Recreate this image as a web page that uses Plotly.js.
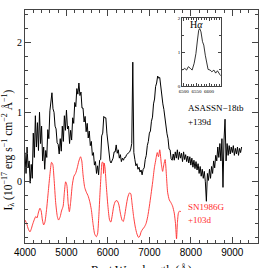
<!DOCTYPE html>
<html><head><meta charset="utf-8">
<script src="https://cdn.plot.ly/plotly-3.0.1.min.js"></script>
<style>html,body{margin:0;padding:0;background:#fff}#c{width:269px;height:268px}</style>
</head><body><div id="c"></div>
<script>
// ASASSN-18tb +139d (black)
const waveTb = [
4000,4025,4050,4075,4100,4125,4150,4175,
4200,4225,4250,4275,4300,4325,4350,4375,
4400,4425,4450,4475,4500,4525,4550,4575,
4600,4625,4650,4675,4700,4725,4750,4775,
4800,4825,4850,4875,4900,4925,4950,4975,
5000,5025,5050,5075,5100,5125,5150,5175,
5200,5225,5250,5275,5300,5325,5350,5375,
5400,5425,5450,5475,5500,5525,5550,5575,
5600,5625,5650,5675,5700,5725,5750,5775,
5800,5825,5850,5875,5900,5925,5950,5975,
6000,6025,6050,6075,6100,6125,6150,6175,
6200,6225,6250,6275,6300,6325,6350,6375,
6400,6425,6450,6475,6500,6525,6550,6575,
6600,6625,6650,6675,6700,6725,6750,6775,
6800,6825,6850,6875,6900,6925,6950,6975,
7000,7025,7050,7075,7100,7125,7150,7175,
7200,7225,7250,7275,7300,7325,7350,7375,
7400,7425,7450,7475,7500,7525,7550,7575,
7600,7625,7650,7675,7700,7725,7750,7775,
7800,7825,7850,7875,7900,7925,7950,7975,
8000,8025,8050,8075,8100,8125,8150,8175,
8200,8225,8250,8275,8300,8325,8350,8375,
8400,8425,8450,8475,8500,8525,8550,8575,
8600,8625,8650,8675,8700,8725,8750,8775,
8800,8825,8850,8875,8900,8925,8950,8975,
9000,9025,9050,9075,9100,9125,9150,9175,
9200,9225];
const fluxTb = [
0.42,0.12,0.50,0.20,0.30,-0.02,0.25,0.05,
0.70,0.35,0.95,0.50,0.85,0.45,1.00,0.55,
0.80,0.30,0.50,0.18,0.45,0.35,0.75,0.62,
1.02,1.16,1.28,1.05,1.00,0.80,0.76,0.56,
0.54,0.40,0.62,0.44,0.80,0.58,0.95,0.74,
1.03,0.76,0.80,0.55,0.74,0.60,0.92,0.84,
1.14,1.08,1.34,1.26,1.42,1.24,1.29,1.06,
1.06,0.86,0.94,0.72,0.84,0.63,0.73,0.52,
0.58,0.38,0.42,0.24,0.29,0.12,0.23,0.10,
0.31,0.32,0.66,0.70,0.94,0.92,0.92,0.70,
0.56,0.36,0.30,0.27,0.32,0.34,0.43,0.43,
0.53,0.41,0.46,0.34,0.39,0.29,0.34,0.31,
0.35,0.35,0.39,0.40,0.42,0.43,0.47,0.55,
1.72,0.42,0.32,0.23,0.26,0.18,0.21,0.14,
0.17,0.10,0.18,0.20,0.32,0.38,0.52,0.58,
0.70,0.73,0.87,0.93,1.12,1.19,1.37,1.42,
1.52,1.49,1.50,1.35,1.27,1.12,1.04,0.89,
0.82,0.69,0.62,0.47,0.46,0.33,0.31,0.40,
0.31,0.43,0.34,0.46,0.32,0.43,0.34,0.41,
0.29,0.43,0.32,0.39,0.29,0.37,0.27,0.36,
0.24,0.34,0.21,0.31,0.19,0.29,0.17,0.26,
0.12,0.22,0.08,0.18,0.05,0.15,0.00,-0.28,
0.12,0.02,0.18,0.05,0.22,0.12,0.30,0.20,
0.38,0.30,0.50,0.35,0.55,0.30,0.62,-0.08,
0.60,0.90,0.30,0.55,0.38,0.52,0.40,0.50,
0.42,0.52,0.38,0.48,0.40,0.50,0.38,0.48,
0.42,0.50];

// SN 1986G +103d (red)
const waveSn = [4000,4040,4080,4120,4150,4180,4220,4260,4290,4320,4360,4390,4420,4450,4480,4520,4560,4600,4640,4670,4700,4740,4780,4810,4850,4880,4920,4950,4980,5010,5040,5070,5100,5140,5180,5220,5260,5300,5340,5370,5400,5440,5480,5520,5560,5600,5640,5680,5720,5750,5780,5810,5840,5860,5880,5895,5910,5930,5960,6000,6040,6070,6100,6140,6180,6220,6260,6300,6340,6370,6400,6440,6480,6520,6550,6580,6620,6660,6700,6740,6770,6800,6840,6880,6920,6960,7000,7040,7080,7120,7150,7190,7220,7250,7290,7320,7350,7380,7410,7440,7480,7520,7560,7600,7630,7655,7675,7700,7730,7760];
const fluxSn = [-0.55,-0.60,-0.68,-0.72,-0.68,-0.62,-0.55,-0.50,-0.52,-0.45,-0.38,-0.42,-0.55,-0.62,-0.58,-0.40,-0.15,0.10,0.28,0.25,0.05,-0.30,-0.50,-0.55,-0.50,-0.42,-0.35,-0.15,0.00,-0.05,-0.30,-0.43,-0.30,-0.05,0.08,0.12,0.20,0.30,0.36,0.30,0.10,-0.08,-0.15,-0.20,-0.28,-0.40,-0.60,-0.75,-0.79,-0.75,-0.50,-0.15,0.15,0.28,0.28,0.12,0.27,0.20,-0.05,-0.35,-0.55,-0.58,-0.50,-0.35,-0.28,-0.27,-0.32,-0.45,-0.55,-0.57,-0.50,-0.35,-0.22,-0.16,-0.17,-0.30,-0.50,-0.65,-0.75,-0.80,-0.78,-0.72,-0.68,-0.65,-0.60,-0.50,-0.35,-0.18,0.00,0.20,0.30,0.42,0.36,0.46,0.25,0.15,0.25,0.32,0.10,-0.15,-0.26,-0.30,-0.35,-0.45,-0.60,-0.82,-0.60,-0.45,-0.42,-0.43];

// H-alpha inset
const waveHa = [6495,6504,6511,6518,6526,6533,6541,6548,6554,6559,6563,6568,6574,6579,6585,6591,6596,6604,6611,6619,6626,6633,6641,6646];
const fluxHa = [0.47,0.52,0.47,0.57,0.52,0.47,0.67,0.96,1.36,1.65,1.70,1.60,1.31,1.21,0.91,0.62,0.49,0.47,0.42,0.47,0.38,0.45,0.33,0.30];

const serif = 'Liberation Serif';
const sans = 'Liberation Sans';

const traces = [
  {x: waveTb, y: fluxTb, type: 'scatter', mode: 'lines', line: {color: '#000', width: 1}, xaxis: 'x', yaxis: 'y', hoverinfo: 'skip'},
  {x: waveSn, y: fluxSn, type: 'scatter', mode: 'lines', line: {color: '#ff2a2a', width: 0.9, shape: 'spline', smoothing: 0.6}, xaxis: 'x', yaxis: 'y', hoverinfo: 'skip'},
  {x: waveHa, y: fluxHa, type: 'scatter', mode: 'lines', line: {color: '#000', width: 0.8}, xaxis: 'x2', yaxis: 'y2', hoverinfo: 'skip'}
];

const layout = {
  width: 269, height: 268,
  margin: {l: 25, r: 11, t: 10, b: 25},
  paper_bgcolor: '#fff', plot_bgcolor: '#fff',
  showlegend: false,
  xaxis: {
    anchor: 'y', showline: true, linecolor: '#444', linewidth: 1, mirror: 'ticks', ticks: 'inside', tickcolor: '#444', showgrid: false, zeroline: false,
    range: [4000, 9620], tickvals: [4000,5000,6000,7000,8000,9000], ticklen: 6,
    minor: {dtick: 200, tick0: 4000, ticklen: 3, ticks: 'inside', tickcolor: '#444'},
    tickfont: {family: sans, size: 10, color: '#000'}
  },
  yaxis: {
    anchor: 'x', showline: true, linecolor: '#444', linewidth: 1, mirror: 'ticks', ticks: 'inside', tickcolor: '#444', showgrid: false, zeroline: false,
    range: [-0.88, 2.47], tickvals: [0,1,2], ticklen: 6,
    minor: {dtick: 0.2, tick0: 0, ticklen: 3, ticks: 'inside', tickcolor: '#444'},
    tickfont: {family: serif, size: 10, color: '#000'}
  },
  xaxis2: {
    anchor: 'y2', showline: true, linecolor: '#444', linewidth: 1, mirror: 'ticks', ticks: 'inside', tickcolor: '#444', showgrid: false, zeroline: false,
    domain: [0.675, 0.84], range: [6494, 6646], tickvals: [6500,6550,6600], ticklen: 3,
    minor: {dtick: 10, ticklen: 1.5, ticks: 'inside', tickcolor: '#444'},
    tickfont: {family: serif, size: 5, color: '#000'}
  },
  yaxis2: {
    anchor: 'x2', showline: true, linecolor: '#444', linewidth: 1, mirror: 'ticks', ticks: 'inside', tickcolor: '#444', showgrid: false, zeroline: false,
    domain: [0.674, 0.964], range: [0, 2], tickvals: [0,1,2], ticklen: 3,
    minor: {dtick: 0.5, ticklen: 1.5, ticks: 'inside', tickcolor: '#444'},
    tickfont: {family: serif, size: 5, color: '#000'}
  },
  annotations: [
    {xref: 'paper', yref: 'paper', x: 0.70, y: 0.936, xanchor: 'left', yanchor: 'middle', showarrow: false, text: 'H<i>α</i>', font: {family: serif, size: 10, color: '#000'}},
    {xref: 'paper', yref: 'paper', x: 0.69, y: 0.579, xanchor: 'left', yanchor: 'middle', showarrow: false, text: 'ASASSN−18tb', font: {family: serif, size: 9, color: '#000'}},
    {xref: 'paper', yref: 'paper', x: 0.69, y: 0.519, xanchor: 'left', yanchor: 'middle', showarrow: false, text: '+139d', font: {family: serif, size: 9, color: '#000'}},
    {xref: 'paper', yref: 'paper', x: 0.69, y: 0.155, xanchor: 'left', yanchor: 'middle', showarrow: false, text: 'SN1986G', font: {family: serif, size: 9, color: '#ff2a2a'}},
    {xref: 'paper', yref: 'paper', x: 0.69, y: 0.099, xanchor: 'left', yanchor: 'middle', showarrow: false, text: '+103d', font: {family: serif, size: 9, color: '#ff2a2a'}},
    {xref: 'paper', yref: 'paper', x: -0.074, y: 0.40, xanchor: 'center', yanchor: 'middle', showarrow: false, textangle: -90,
     text: 'I<sub>λ</sub> (10<sup>−17</sup> erg s<sup>−1</sup> cm<sup>−2</sup> Å<sup>−1</sup>)', font: {family: serif, size: 11.5, color: '#000'}},
    {xref: 'paper', yref: 'paper', x: 0.5, y: -0.078, xanchor: 'center', yanchor: 'top', showarrow: false,
     text: 'Rest Wavelength (Å)', font: {family: serif, size: 12, color: '#000'}}
  ]
};

Plotly.newPlot('c', traces, layout, {staticPlot: true, displayModeBar: false});
</script></body></html>
